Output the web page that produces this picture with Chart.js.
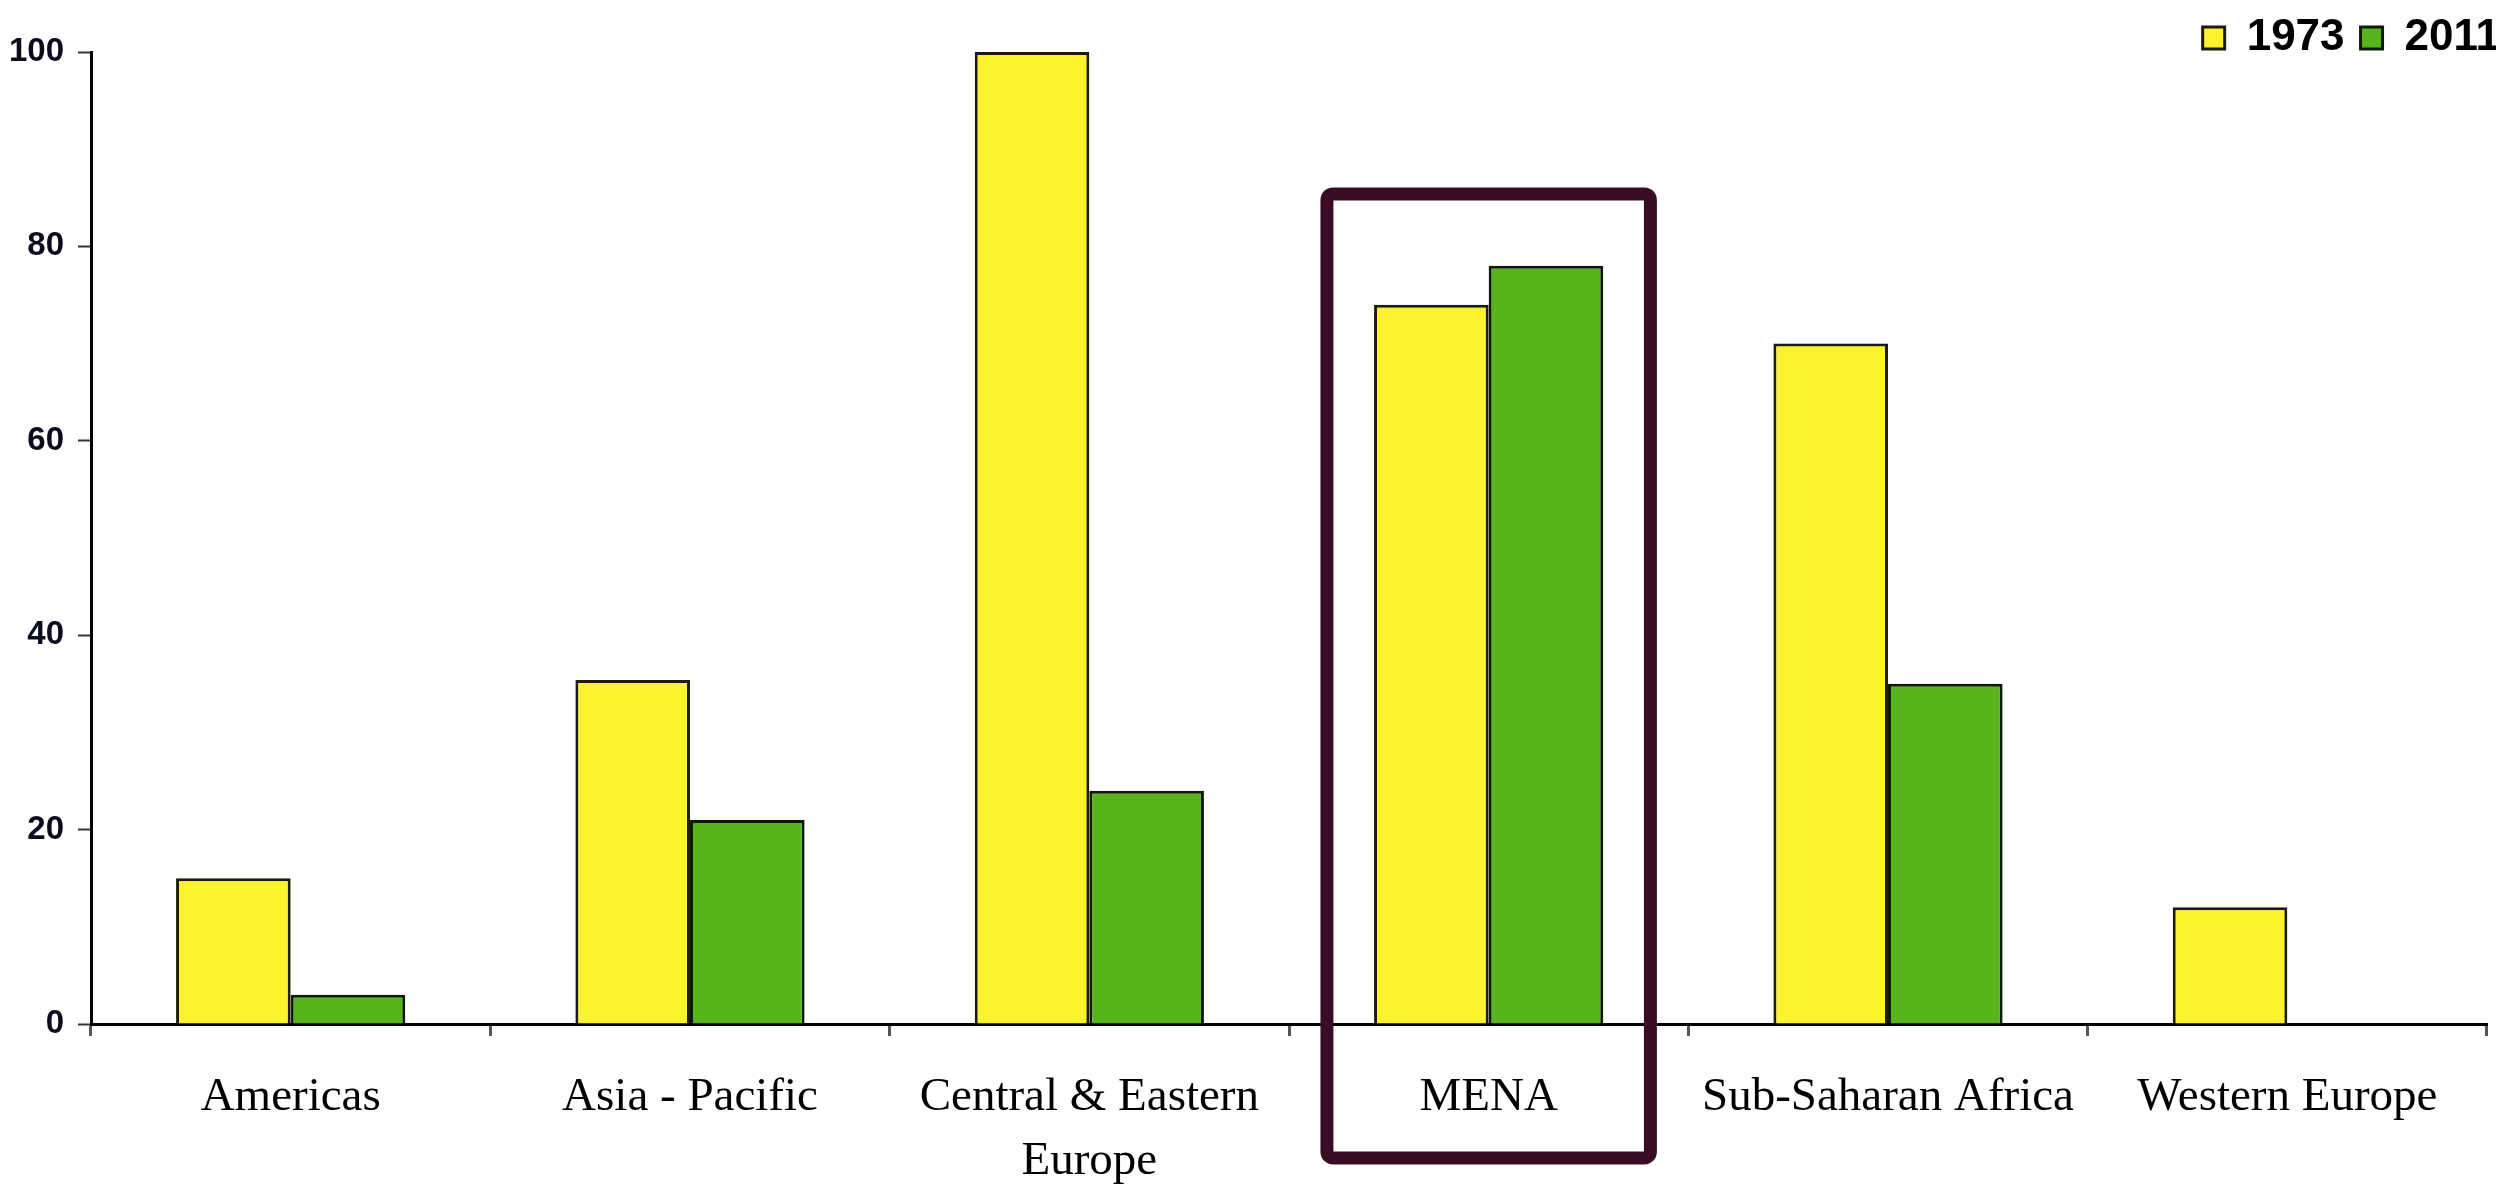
<!DOCTYPE html>
<html>
<head>
<meta charset="utf-8">
<script src="https://cdn.jsdelivr.net/npm/chart.js@4/dist/chart.umd.min.js"></script>
<style>
  html, body { margin: 0; padding: 0; background: #ffffff; overflow: hidden; }
  #wrap { width: 2516px; height: 1188px; position: relative; }
</style>
</head>
<body>
<div id="wrap"><canvas id="chart"></canvas></div>
<script>
// Regions compared across two years
const categories = [
  'Americas',
  'Asia - Pacific',
  ['Central & Eastern', 'Europe'],
  'MENA',
  'Sub-Saharan Africa',
  'Western Europe'
];
const seriesNames = ['1973', '2011'];
const values1973 = [15, 35.4, 100, 74, 70, 12];
const values2011 = [3, 21, 24, 78, 35, 0];
const yTicks = [0, 20, 40, 60, 80, 100];

// Region singled out with a frame
const highlightedRegion = 'MENA';

const boldSans = '"Liberation Sans", Arial, sans-serif';

const highlightFrame = {
  id: 'highlightFrame',
  afterDraw(chart) {
    const x = chart.scales.x;
    const y = chart.scales.y;
    const idx = categories.indexOf(highlightedRegion);
    if (idx < 0) return;
    const cx = x.getPixelForValue(idx);
    const catW = x.width / categories.length;
    const half = catW * 0.405;
    const top = y.getPixelForValue(85.4);
    const bottom = y.getPixelForValue(0) + 134;
    const ctx = chart.ctx;
    ctx.save();
    ctx.strokeStyle = '#3a0c24';
    ctx.lineWidth = 13;
    ctx.lineJoin = 'round';
    ctx.beginPath();
    if (ctx.roundRect) {
      ctx.roundRect(cx - half, top, half * 2, bottom - top, 6);
    } else {
      ctx.rect(cx - half, top, half * 2, bottom - top);
    }
    ctx.stroke();
    ctx.restore();
  }
};

new Chart(document.getElementById('chart'), {
  type: 'bar',
  data: {
    labels: categories,
    datasets: [
      {
        label: seriesNames[0],
        data: values1973,
        backgroundColor: '#fdf22e',
        borderColor: '#1e1c08',
        borderWidth: 3,
        borderSkipped: 'bottom',
        categoryPercentage: 0.574,
        barPercentage: 1.0
      },
      {
        label: seriesNames[1],
        data: values2011,
        backgroundColor: '#58b41b',
        borderColor: '#0f1a06',
        borderWidth: 3,
        borderSkipped: 'bottom',
        categoryPercentage: 0.574,
        barPercentage: 1.0
      }
    ]
  },
  options: {
    responsive: true,
    maintainAspectRatio: false,
    animation: false,
    devicePixelRatio: 1,
    layout: { padding: { top: 0, right: 0, bottom: 0, left: 0 } },
    plugins: {
      tooltip: { enabled: false },
      legend: {
        display: true,
        position: 'top',
        align: 'end',
        maxHeight: 52,
        labels: {
          boxWidth: 22,
          boxHeight: 22,
          padding: 16,
          color: '#000000',
          font: { family: boldSans, size: 44, weight: 'bold' }
        }
      }
    },
    scales: {
      x: {
        offset: true,
        grid: {
          display: true,
          offset: true,
          drawOnChartArea: false,
          drawTicks: true,
          tickLength: 12,
          tickWidth: 3,
          tickColor: '#555555'
        },
        border: { display: true, color: '#000000', width: 3 },
        ticks: {
          color: '#000000',
          padding: 29,
          maxRotation: 0,
          autoSkip: false,
          font: { family: '"Liberation Serif", "Times New Roman", serif', size: 47, lineHeight: 1.37 }
        },
        afterFit(scale) { scale.height = 164; }
      },
      y: {
        min: 0,
        max: 100,
        afterBuildTicks(scale) { scale.ticks = yTicks.map(v => ({ value: v })); },
        grid: {
          display: true,
          drawOnChartArea: false,
          drawTicks: true,
          tickLength: 13,
          tickWidth: 2,
          tickColor: '#333333'
        },
        border: { display: true, color: '#000000', width: 3 },
        ticks: {
          color: '#0b0b1e',
          padding: 14,
          font: { family: boldSans, size: 33, weight: 'bold' }
        },
        afterFit(scale) { scale.width = 91; }
      },
      // empty right-hand gutter so the legend can run past the plot edge
      gutter: {
        type: 'linear',
        position: 'right',
        display: true,
        grid: { display: false, drawTicks: false },
        border: { display: false },
        ticks: { display: false },
        afterFit(scale) { scale.width = 29; }
      }
    }
  },
  plugins: [highlightFrame]
});
</script>
</body>
</html>
